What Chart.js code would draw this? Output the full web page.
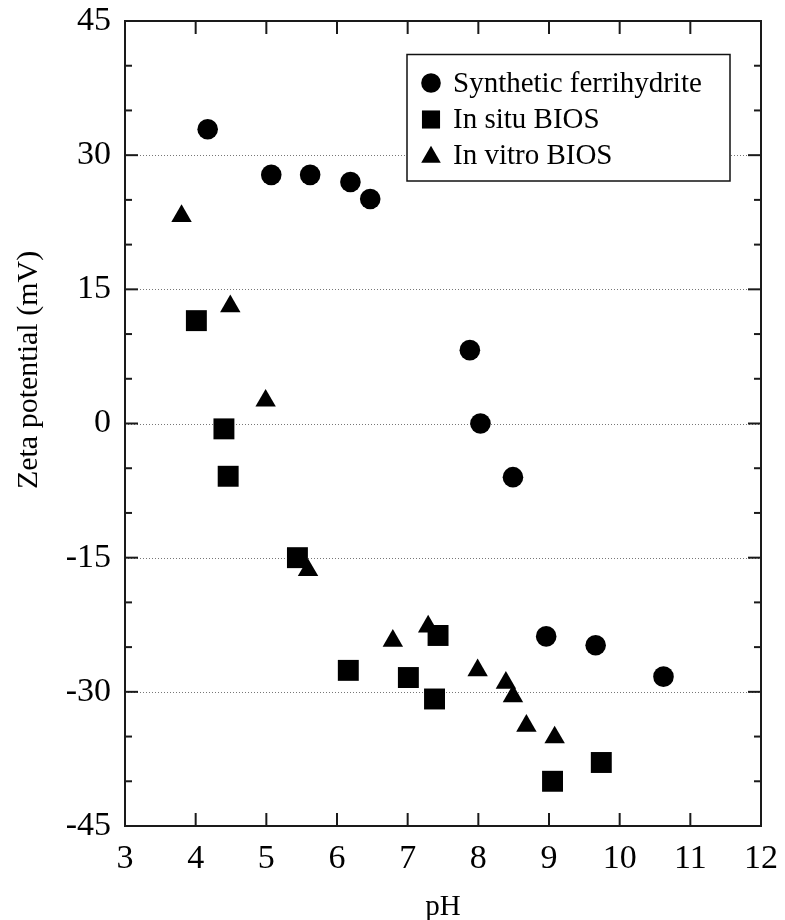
<!DOCTYPE html>
<html><head><meta charset="utf-8">
<script src="https://cdn.jsdelivr.net/npm/chart.js@4/dist/chart.umd.min.js"></script>
<style>html,body{margin:0;padding:0;background:#fff;}</style>
</head><body>
<canvas id="c" width="785" height="920" style="width:785px;height:920px;display:block"></canvas>
<script>
// ---- data ----
const seriesNames = ['Synthetic ferrihydrite', 'In situ BIOS', 'In vitro BIOS'];
const ferrihydritePH   = [4.17, 5.07, 5.62, 6.19, 6.47, 7.88, 8.03, 8.49, 8.96, 9.66, 10.62];
const ferrihydriteZeta = [32.9, 27.8, 27.8, 27.0, 25.1, 8.2, 0.0, -6.0, -23.8, -24.8, -28.3];
const inSituPH   = [4.01, 4.40, 4.46, 5.44, 6.16, 7.01, 7.43, 7.38, 9.05, 9.74];
const inSituZeta = [11.5, -0.6, -5.9, -15.0, -27.6, -28.4, -23.7, -30.8, -40.0, -37.9];
const inVitroPH   = [3.80, 4.49, 4.99, 5.59, 6.79, 7.29, 7.99, 8.39, 8.49, 8.68, 9.08];
const inVitroZeta = [23.2, 13.1, 2.55, -16.4, -24.3, -22.7, -27.6, -29.0, -30.5, -33.8, -35.1];
const xTickValues = [3, 4, 5, 6, 7, 8, 9, 10, 11, 12];
const yTickValues = [-45, -30, -15, 0, 15, 30, 45];
const yMinorValues = [-40, -35, -25, -20, -10, -5, 5, 10, 20, 25, 35, 40];
const xTitle = 'pH';
const yTitle = 'Zeta potential (mV)';

const FONT = '"Liberation Serif", "Times New Roman", serif';
const toPts = (xs, ys) => xs.map((x, i) => ({x: x, y: ys[i]}));

const styles = [
  {pointStyle: 'circle', radius: 10.3},
  {pointStyle: 'rect', radius: 14.8},
  {pointStyle: 'triangle', radius: 11.8}
];
const legendStyles = [
  {pointStyle: 'circle', radius: 9.8},
  {pointStyle: 'rect', radius: 12.8},
  {pointStyle: 'triangle', radius: 11.3}
];

const frame = {
  id: 'frame',
  beforeDatasetsDraw(chart) {
    const {ctx, chartArea: a, scales: {x, y}} = chart;
    ctx.save();
    // dotted grid
    ctx.strokeStyle = '#777';
    ctx.lineWidth = 1;
    ctx.setLineDash([1, 2]);
    yTickValues.forEach(v => {
      if (v === -45 || v === 45) return;
      const py = Math.round(y.getPixelForValue(v)) + 0.5;
      ctx.beginPath(); ctx.moveTo(a.left, py); ctx.lineTo(a.right, py); ctx.stroke();
    });
    ctx.setLineDash([]);
    // ticks
    ctx.strokeStyle = '#1a1a1a';
    ctx.lineWidth = 2;
    xTickValues.forEach(v => {
      const px = x.getPixelForValue(v);
      ctx.beginPath(); ctx.moveTo(px, a.bottom); ctx.lineTo(px, a.bottom - 13); ctx.stroke();
      ctx.beginPath(); ctx.moveTo(px, a.top); ctx.lineTo(px, a.top + 13); ctx.stroke();
    });
    yTickValues.forEach(v => {
      const py = y.getPixelForValue(v);
      ctx.beginPath(); ctx.moveTo(a.left, py); ctx.lineTo(a.left + 13, py); ctx.stroke();
      ctx.beginPath(); ctx.moveTo(a.right, py); ctx.lineTo(a.right - 13, py); ctx.stroke();
    });
    yMinorValues.forEach(v => {
      const py = y.getPixelForValue(v);
      ctx.beginPath(); ctx.moveTo(a.left, py); ctx.lineTo(a.left + 7, py); ctx.stroke();
      ctx.beginPath(); ctx.moveTo(a.right, py); ctx.lineTo(a.right - 7, py); ctx.stroke();
    });
    // frame
    ctx.strokeRect(a.left, a.top, a.right - a.left, a.bottom - a.top);
    ctx.restore();
  },
  afterDraw(chart) {
    const ctx = chart.ctx;
    ctx.save();
    // y axis title
    ctx.fillStyle = '#000';
    ctx.font = '30px ' + FONT;
    ctx.textAlign = 'center';
    ctx.textBaseline = 'middle';
    ctx.translate(29, 370);
    ctx.rotate(-Math.PI / 2);
    ctx.fillText(yTitle, 0, 0);
    ctx.restore();
    // legend
    ctx.save();
    ctx.fillStyle = '#fff';
    ctx.fillRect(407, 54.5, 323, 126.5);
    ctx.strokeStyle = '#111';
    ctx.lineWidth = 1.5;
    ctx.strokeRect(407, 54.5, 323, 126.5);
    const rows = [83, 119.5, 155];
    seriesNames.forEach((name, i) => {
      ctx.fillStyle = '#000';
      const st = legendStyles[i];
      const yy = rows[i] + (st.pointStyle === 'triangle' ? 2 : 0);
      Chart.helpers.drawPoint(ctx, {pointStyle: st.pointStyle, radius: st.radius, rotation: 0, borderWidth: 0}, 431, yy);
      ctx.font = '29px ' + FONT;
      ctx.textAlign = 'left';
      ctx.textBaseline = 'middle';
      ctx.fillText(name, 453, rows[i] + 1);
    });
    ctx.restore();
  }
};

const datasets = [
  {label: seriesNames[0], data: toPts(ferrihydritePH, ferrihydriteZeta)},
  {label: seriesNames[1], data: toPts(inSituPH, inSituZeta)},
  {label: seriesNames[2], data: toPts(inVitroPH, inVitroZeta)}
].map((d, i) => Object.assign(d, {
  pointStyle: styles[i].pointStyle,
  pointRadius: styles[i].radius,
  pointHoverRadius: styles[i].radius,
  backgroundColor: '#000',
  borderColor: '#000',
  borderWidth: 0,
  showLine: false
}));

new Chart(document.getElementById('c'), {
  type: 'scatter',
  data: {datasets},
  options: {
    responsive: false,
    animation: false,
    devicePixelRatio: 1,
    layout: {padding: {left: 0, right: 24, top: 21, bottom: 0}},
    plugins: {legend: {display: false}, tooltip: {enabled: false}},
    scales: {
      x: {
        type: 'linear', min: 3, max: 12,
        afterBuildTicks: s => { s.ticks = xTickValues.map(v => ({value: v})); },
        afterFit: s => { s.height = 94; s.paddingLeft = 10; s.paddingRight = 20; },
        grid: {display: false, drawTicks: false},
        border: {display: false},
        ticks: {color: '#000', font: {family: FONT, size: 34}, padding: 13, maxRotation: 0, autoSkip: false},
        title: {display: true, text: xTitle, color: '#000', font: {family: FONT, size: 29, lineHeight: 0.9}, padding: {top: 0, bottom: 0}}
      },
      y: {
        type: 'linear', min: -45, max: 45,
        afterBuildTicks: s => { s.ticks = yTickValues.map(v => ({value: v})); },
        afterFit: s => { s.width = 125; s.paddingTop = 18; s.paddingBottom = 18; },
        grid: {display: false, drawTicks: false},
        border: {display: false},
        ticks: {color: '#000', font: {family: FONT, size: 34}, padding: 14}
      }
    }
  },
  plugins: [frame]
});
</script>
</body></html>
